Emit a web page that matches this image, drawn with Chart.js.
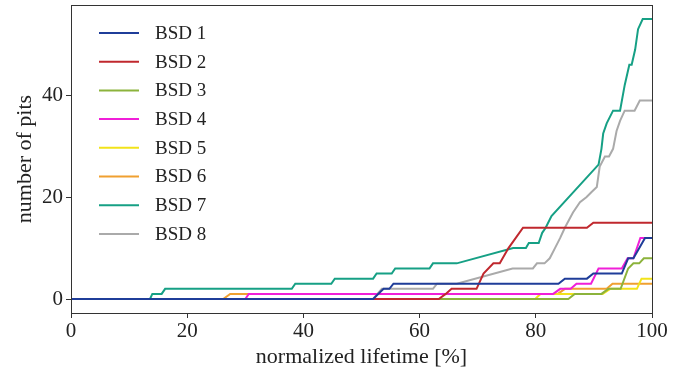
<!DOCTYPE html>
<html>
<head>
<meta charset="utf-8">
<script src="https://cdn.jsdelivr.net/npm/chart.js@4.4.1/dist/chart.umd.min.js"></script>
<style>
  html, body { margin: 0; padding: 0; background: #fff; }
  canvas { display: block; }
</style>
</head>
<body>
<canvas id="pitChart" width="679" height="372"></canvas>
<script>
// pits counted per sample, [normalized lifetime %, number of pits]
const labels = ["BSD 1", "BSD 2", "BSD 3", "BSD 4", "BSD 5", "BSD 6", "BSD 7", "BSD 8"];
const colors = ["#1f3d99", "#c0282e", "#8cb33c", "#f01fd8", "#f2e31a", "#f0a030", "#16a085", "#aaaaaa"];

const bsd1 = [[0,0],[52,0],[53.8,2],[54.8,2],[55.5,3],[83.9,3],[85,4],[88.8,4],[89.9,5],[94.8,5],[95.9,8],[96.8,8],[98.8,12],[100,12]];
const bsd2 = [[0,0],[63.3,0],[64.5,1],[65.5,2],[69.8,2],[71,5],[72.7,7],[73.8,7],[75.3,10],[77.8,14],[88.8,14],[89.9,15],[100,15]];
const bsd3 = [[0,0],[85.6,0],[86.7,1],[91.3,1],[92.5,2],[94.6,2],[95.9,6],[96.8,7],[97.8,7],[98.6,8],[100,8]];
const bsd4 = [[0,0],[30,0],[30.6,1],[83,1],[84.2,2],[86,2],[87,3],[89.5,3],[90.8,6],[94.8,6],[95.8,8],[96.8,8],[98,12],[100,12]];
const bsd5 = [[0,0],[79.9,0],[80.8,1],[91.5,1],[92.8,2],[97.4,2],[98.2,4],[100,4]];
const bsd6 = [[0,0],[26.2,0],[27.4,1],[83.8,1],[85,2],[92.2,2],[93.2,3],[100,3]];
const bsd7 = [[0,0],[13.6,0],[14,1],[15.6,1],[16.2,2],[38,2],[38.6,3],[44.8,3],[45.4,4],[52,4],[52.6,5],[55.2,5],[55.8,6],[61.7,6],[62.3,7],[66.4,7],[76.1,10],[78.3,10],[78.8,11],[80.5,11],[81.1,13],[81.7,14],[82.7,16.3],[90.8,26.4],[91.3,29.5],[91.6,32.5],[92.2,34.5],[93.3,37],[94.5,37],[95.3,42],[96.1,46],[96.5,46],[97.1,49],[97.6,53],[98.4,55],[100,55]];
const bsd8 = [[0,0],[52,0],[53.5,2],[62.3,2],[63,3],[66.4,3],[76,6],[79.5,6],[80.2,7],[81.5,7],[82.4,8],[83.3,10],[84.2,12],[85,14],[86.4,17],[87.6,19],[88.7,20],[89.6,21],[90.5,22],[91,26],[91.9,28],[92.6,28],[93.3,29.5],[93.9,33],[94.5,35],[95.3,37],[97,37],[97.9,39],[100,39]];

const series = [bsd1, bsd2, bsd3, bsd4, bsd5, bsd6, bsd7, bsd8];
const xTicks = [0, 20, 40, 60, 80, 100];
const yTicks = [0, 20, 40];

const serif = "'Liberation Serif', 'Times New Roman', serif";
const ink = "#222";

// matplotlib-style box around the plot
const frame = {
  id: "frame",
  afterDraw(chart) {
    const { ctx, chartArea: a } = chart;
    ctx.save();
    ctx.strokeStyle = "#333";
    ctx.lineWidth = 1;
    ctx.strokeRect(Math.round(a.left) + 0.5, Math.round(a.top) + 0.5,
      Math.round(a.right - a.left), Math.round(a.bottom - a.top));
    ctx.restore();
  }
};

// legend inside the axes, line samples like matplotlib
const insideLegend = {
  id: "insideLegend",
  afterDraw(chart) {
    const ctx = chart.ctx;
    ctx.save();
    ctx.font = "19px " + serif;
    ctx.textBaseline = "middle";
    chart.data.datasets.forEach((ds, i) => {
      const y = 33 + i * 28.7;
      ctx.strokeStyle = ds.borderColor;
      ctx.lineWidth = 2;
      ctx.beginPath();
      ctx.moveTo(99, y);
      ctx.lineTo(139, y);
      ctx.stroke();
      ctx.fillStyle = ink;
      ctx.fillText(ds.label, 155, y + 1);
    });
    ctx.restore();
  }
};

const ctx = document.getElementById("pitChart").getContext("2d");
const myChart = new Chart(ctx, {
  type: "line",
  data: {
    datasets: series.map((s, i) => ({
      label: labels[i],
      data: s.map(p => ({ x: p[0], y: p[1] })),
      borderColor: colors[i],
      backgroundColor: colors[i],
      borderWidth: 2,
      pointRadius: 0,
      tension: 0,
      fill: false,
    })),
  },
  options: {
    responsive: false,
    animation: false,
    devicePixelRatio: 1,
    layout: { padding: { top: 5, right: 27, left: 0, bottom: 0 } },
    plugins: { legend: { display: false }, tooltip: { enabled: false } },
    scales: {
      x: {
        type: "linear",
        min: 0,
        max: 100,
        afterBuildTicks: s => { s.ticks = xTicks.map(v => ({ value: v })); },
        afterFit: s => { s.height = 59; },
        grid: { drawOnChartArea: false, drawTicks: true, tickLength: 5, color: "#333" },
        border: { display: true, color: "#333" },
        ticks: { color: ink, font: { family: serif, size: 21 }, padding: 1, maxRotation: 0 },
        title: { display: true, text: "normalized lifetime [%]", color: ink,
          font: { family: serif, size: 22 }, padding: { top: 0, bottom: 2 } },
      },
      y: {
        type: "linear",
        min: -2.75,
        max: 57.75,
        afterBuildTicks: s => { s.ticks = yTicks.map(v => ({ value: v })); },
        afterFit: s => { s.width = 71; s.paddingTop = 0; s.paddingBottom = 0; },
        grid: { drawOnChartArea: false, drawTicks: true, tickLength: 5, color: "#333" },
        border: { display: true, color: "#333" },
        ticks: { color: ink, font: { family: serif, size: 21 }, padding: 3 },
        title: { display: true, text: "number of pits", color: ink,
          font: { family: serif, size: 22 }, padding: { top: 12, bottom: 0 } },
      },
    },
  },
  plugins: [frame, insideLegend],
});
</script>
</body>
</html>
